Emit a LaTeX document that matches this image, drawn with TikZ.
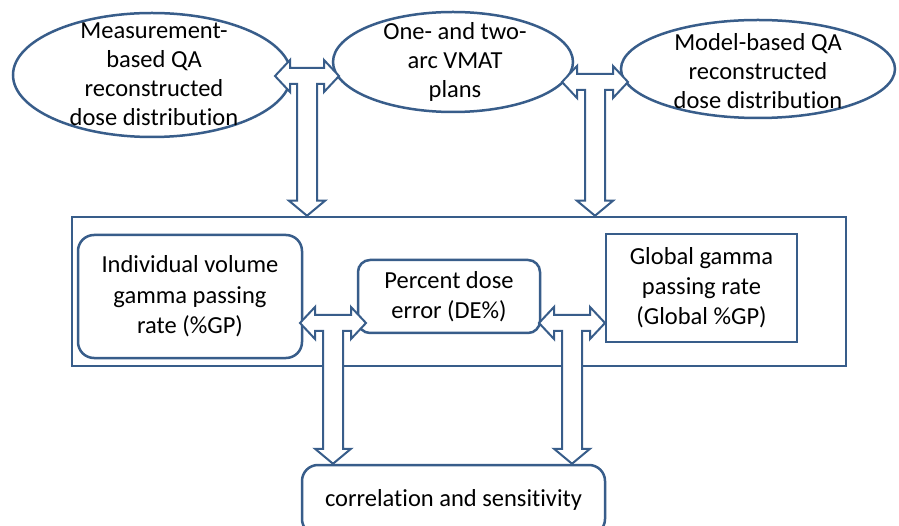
\documentclass[tikz,border=0pt]{standalone}
\usepackage{fontspec}
\setmainfont{Carlito}[Ligatures={NoCommon}]
\usetikzlibrary{shapes.geometric,calc}
\definecolor{qaline}{RGB}{56,93,138}

% T-shaped block arrow: #1 hub, #2 half length, #3 lower tip
\newcommand{\tarrow}[3]{%
  \draw[tshape] ($(#1)+(-#2,0)$) -- ++(15,-16) -- ++(0,8) -- ($(#1)+(#2-15,-8)$)
    -- ++(0,-8) -- ($(#1)+(#2,0)$) -- ++(-15,16) -- ++(0,-8) -- ($(#1)+(10,8)$)
    -- ($(#3)+(10,-15)$) -- ++(8,0) -- (#3) -- ++(-18,-15) -- ++(8,0)
    -- ($(#1)+(-10,8)$) -- ($(#1)+(-#2+15,8)$) -- ++(0,8) -- cycle;}

\tikzset{
  oval/.style={ellipse, draw=qaline, line width=2.5pt, inner sep=0pt},
  ovaltext/.style={align=center, font=\fontsize{24.5}{29}\selectfont},
  roundbox/.style={draw=qaline, line width=2.5pt, rounded corners=16pt, align=center,
    font=\fontsize{24.5}{30.5}\selectfont, fill=white},
  sharpbox/.style={draw=qaline, line width=2.5pt, align=center,
    font=\fontsize{24.5}{30}\selectfont, fill=white},
  tshape/.style={draw=qaline, line width=2pt, fill=white, line join=miter}
}

\begin{document}
\begin{tikzpicture}[x=1pt, y=-1pt]
  \clip (0,0) rectangle (899,526);
  \fill[white] (0,0) rectangle (899,526);

  % sources
  \node[oval, minimum width=278pt, minimum height=124pt] (meas) at (152,75) {};
  \node[ovaltext] (meastext) at (154,74) {Measurement-\\based QA\\reconstructed\\dose distribution};
  \node[oval, minimum width=240pt, minimum height=100pt] (plans) at (453,62) {};
  \node[ovaltext] (planstext) at (455,62) {One- and two-\\arc VMAT\\plans};
  \node[oval, minimum width=274pt, minimum height=98pt] (model) at (758,69) {};
  \node[ovaltext] (modeltext) at (758,71) {Model-based QA\\reconstructed\\dose distribution};

  % metrics
  \node[draw=qaline, line width=2.5pt, minimum width=774pt, minimum height=149pt, inner sep=0pt]
    (frame) at (459,291.5) {};
  \node[roundbox, minimum width=224pt, minimum height=123pt, inner sep=0pt] (indiv) at (190,296.5)
    {Individual volume\\gamma passing\\rate (\%GP)};
  \node[roundbox, rounded corners=12pt, minimum width=182pt, minimum height=73pt, inner sep=0pt]
    (pde) at (449,296.5) {Percent dose\\error (DE\%)};
  \node[sharpbox, minimum width=191pt, minimum height=108pt, inner sep=0pt] (glob) at (701.5,288)
    {Global gamma\\passing rate\\(Global \%GP)};

  % result
  \node[roundbox, minimum width=303pt, minimum height=70pt, inner sep=0pt] (corr) at (453.5,500)
    {correlation and sensitivity};

  % block arrows
  \coordinate (hub1) at (307,76);
  \coordinate (hub2) at (595,82);
  \coordinate (hub3) at (333,323);
  \coordinate (hub4) at (572,323);
  \coordinate (tip1) at (hub1 |- frame.north);
  \coordinate (tip2) at (hub2 |- frame.north);
  \coordinate (tip3) at (hub3 |- corr.north);
  \coordinate (tip4) at (hub4 |- corr.north);
  \tarrow{hub1}{32}{tip1}
  \tarrow{hub2}{33}{tip2}
  \tarrow{hub3}{33}{tip3}
  \tarrow{hub4}{33}{tip4}
\end{tikzpicture}
\end{document}
